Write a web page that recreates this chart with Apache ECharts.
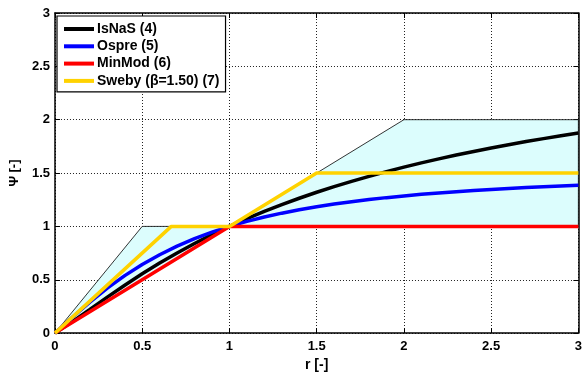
<!DOCTYPE html>
<html><head><meta charset="utf-8">
<script src="https://cdn.jsdelivr.net/npm/echarts@6/dist/echarts.min.js"></script>
<style>html,body{margin:0;padding:0;background:#fff}#c{width:585px;height:377px}</style>
</head><body><div id="c"></div>
<script>
const rValues = [0,0.1,0.2,0.3,0.4,0.5,0.6,0.7,0.8,0.9,1.0,1.1,1.2,1.3,1.4,1.5,1.6,1.7,1.8,1.9,2.0,2.1,2.2,2.3,2.4,2.5,2.6,2.7,2.8,2.9,3.0];
const isnasValues = [0,0.1074,0.2222,0.3373,0.4490,0.5556,0.6563,0.7509,0.8395,0.9224,1.0,1.0726,1.1405,1.2042,1.2639,1.32,1.3728,1.4225,1.4694,1.5137,1.5556,1.5952,1.6328,1.6685,1.7024,1.7347,1.7654,1.7948,1.8227,1.8494,1.875];
const osprevalues = [0,0.1486,0.2903,0.4209,0.5385,0.6429,0.7347,0.8151,0.8852,0.9465,1.0,1.0468,1.0879,1.1241,1.1560,1.1842,1.2093,1.2317,1.2517,1.2696,1.2857,1.3003,1.3134,1.3254,1.3362,1.3462,1.3552,1.3635,1.3711,1.3781,1.3846];
const minmodR = [0,1,3];
const minmodValues = [0,1,1];
const swebyR = [0,0.6667,1,1.5,3];
const swebyValues = [0,1,1,1.5,1.5];
const tvdR = [0,0.5,1,2,3,3,1,0];
const tvdValues = [0,1,1,2,2,1,1,0];
const tickLabels = ['0','0.5','1','1.5','2','2.5','3'];
const seriesNames = ['IsNaS (4)','Ospre (5)','MinMod (6)','Sweby (\u03b2=1.50) (7)'];

const zip = (a,b)=>a.map((v,i)=>[v,b[i]]);
const font = 'Liberation Sans, Arial, sans-serif';
const lbl = {color:'#000',fontFamily:font,fontWeight:'bold',fontSize:13};
const chart = echarts.init(document.getElementById('c'),null,{renderer:'canvas'});
const fmt = v => { const s = tickLabels[Math.round(v*2)]; return s===undefined?'':s; };
chart.setOption({
  animation:false,
  grid:{left:54,right:6,top:13,bottom:41},
  xAxis:[{type:'value',min:0,max:3,interval:0.5,position:'bottom',
      axisLine:{onZero:false,lineStyle:{color:'#000',width:1.5}},
      axisTick:{inside:true,length:5,lineStyle:{color:'#000'}},
      axisLabel:Object.assign({margin:7,formatter:fmt},lbl),
      splitLine:{show:true,lineStyle:{color:'#222',type:[1,2],width:1}},
      name:'r [-]',nameLocation:'middle',nameGap:24,nameTextStyle:Object.assign({},lbl,{fontSize:14})},
    {type:'value',min:0,max:3,interval:0.5,position:'top',
      axisLine:{onZero:false,lineStyle:{color:'#000',width:1.5}},
      axisTick:{inside:true,length:5,lineStyle:{color:'#000'}},
      axisLabel:{show:false},splitLine:{show:false}}],
  yAxis:[{type:'value',min:0,max:3,interval:0.5,position:'left',
      axisLine:{onZero:false,lineStyle:{color:'#000',width:1.5}},
      axisTick:{inside:true,length:5,lineStyle:{color:'#000'}},
      axisLabel:Object.assign({margin:5,formatter:fmt},lbl),
      splitLine:{show:true,lineStyle:{color:'#222',type:[1,2],width:1}},
      name:'\u03a8 [-]',nameLocation:'middle',nameGap:31,nameRotate:90,nameTextStyle:Object.assign({},lbl,{padding:[0,0,0,0]})},
    {type:'value',min:0,max:3,interval:0.5,position:'right',
      axisLine:{onZero:false,lineStyle:{color:'#000',width:1.5}},
      axisTick:{inside:true,length:5,lineStyle:{color:'#000'}},
      axisLabel:{show:false},splitLine:{show:false}}],
  legend:{orient:'vertical',left:57,top:16,data:seriesNames,
    backgroundColor:'#fff',borderColor:'#000',borderWidth:1.2,padding:[6,6,4,7],
    itemWidth:30,itemHeight:4,itemGap:3.3,icon:'rect',
    textStyle:{color:'#000',fontFamily:font,fontWeight:'bold',fontSize:14,padding:[0,0,0,-2]}},
  series:[
    {type:'custom',silent:true,z:1,data:[0],
     renderItem:(params,api)=>({type:'polygon',
        shape:{points:zip(tvdR,tvdValues).map(p=>api.coord(p))},
        style:{fill:'#dcfdfd',stroke:'#000',lineWidth:0.8}})},
    {name:seriesNames[0],type:'line',z:3,showSymbol:false,data:zip(rValues,isnasValues),lineStyle:{color:'#000',width:3.5},itemStyle:{color:'#000'}},
    {name:seriesNames[1],type:'line',z:4,showSymbol:false,data:zip(rValues,osprevalues),lineStyle:{color:'#0000ff',width:3.5},itemStyle:{color:'#0000ff'}},
    {name:seriesNames[2],type:'line',z:5,showSymbol:false,data:zip(minmodR,minmodValues),lineStyle:{color:'#ff0000',width:3.5},itemStyle:{color:'#ff0000'}},
    {name:seriesNames[3],type:'line',z:6,showSymbol:false,data:zip(swebyR,swebyValues),lineStyle:{color:'#ffd200',width:3.5},itemStyle:{color:'#ffd200'}}
  ]
});
</script></body></html>
